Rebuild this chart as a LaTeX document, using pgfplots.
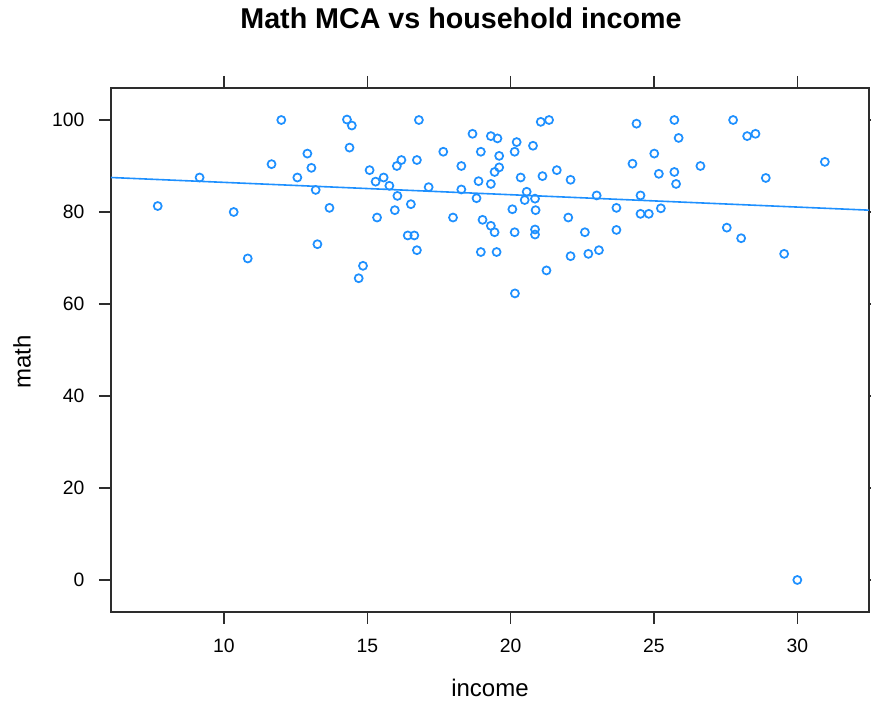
\documentclass[border=0pt]{standalone}
\usepackage{pgfplots}
\pgfplotsset{compat=1.18}
\usepackage{fontspec}
\setmainfont{Liberation Sans}
\definecolor{latblue}{RGB}{30,144,255}
\definecolor{frame}{RGB}{45,45,45}

\pgfplotstableread{
income math
7.69 81.3
9.15 87.5
10.34 80.0
10.83 69.9
11.66 90.4
12.00 100.0
12.56 87.5
12.91 92.7
13.05 89.6
13.20 84.8
13.26 73.0
13.68 80.9
14.29 100.1
14.46 98.8
14.38 94.0
14.70 65.6
14.85 68.3
15.08 89.1
15.29 86.6
15.34 78.8
15.57 87.5
15.77 85.7
15.96 80.4
16.03 90.0
16.05 83.5
16.19 91.3
16.41 74.9
16.52 81.7
16.64 74.9
16.73 91.3
16.73 71.7
16.80 100.0
17.14 85.4
17.65 93.1
17.99 78.8
18.28 90.0
18.28 84.9
18.67 97.0
18.81 83.0
18.88 86.7
18.96 93.1
18.96 71.3
19.02 78.3
19.31 96.5
19.31 86.1
19.31 77.0
19.44 88.7
19.44 75.6
19.51 71.3
19.54 96.0
19.60 92.2
19.60 89.7
20.06 80.6
20.14 93.1
20.14 75.6
20.15 62.3
20.21 95.2
20.35 87.5
20.49 82.6
20.56 84.4
20.78 94.4
20.85 82.9
20.87 80.4
20.85 76.2
20.85 75.1
21.05 99.6
21.11 87.8
21.25 67.3
21.34 100.0
21.61 89.1
22.01 78.8
22.09 87.0
22.09 70.4
22.59 75.6
22.71 70.9
23.00 83.6
23.08 71.7
23.69 80.9
23.69 76.1
24.25 90.5
24.39 99.2
24.53 83.6
24.53 79.6
24.82 79.6
25.01 92.7
25.17 88.3
25.24 80.8
25.71 100.0
25.71 88.7
25.77 86.1
25.86 96.1
26.62 90.0
27.54 76.6
27.76 100.0
28.04 74.3
28.25 96.5
28.54 97.0
28.90 87.4
29.54 70.9
30.00 0.0
30.96 90.9
}\scores

\begin{document}
\begin{tikzpicture}
\useasboundingbox (0,0) rectangle (653.25pt,526.5pt);
\begin{axis}[
  at={(83.25pt,67.5pt)}, anchor=south west,
  scale only axis, width=568.5pt, height=393pt,
  xmin=6.06, xmax=32.5, ymin=-6.96, ymax=106.96,
  xtick={10,15,20,25,30}, ytick={0,20,40,60,80,100},
  tick align=outside, tick pos=both,
  major tick length=9pt,
  axis line style={frame, line width=1pt},
  every tick/.style={frame, line width=1pt},
  tick label style={font=\fontsize{14.5}{17}\selectfont, black},
  xticklabel shift=8pt, yticklabel shift=7.5pt,
  /pgf/number format/assume math mode=true,
]
% least-squares trend line
\addplot[latblue, line width=1.2pt] coordinates {(6.06,87.5) (32.5,80.4)};
% observations
\addplot[only marks, mark=o, mark size=3pt,
  mark options={latblue, line width=1.3pt}] table[x=income, y=math] {\scores};
\end{axis}
\node[font=\fontsize{21.5}{25}\selectfont\bfseries] at (345.75pt,513pt) {Math MCA vs household income};
\node[font=\fontsize{18}{22}\selectfont] at (367.5pt,10.5pt) {income};
\node[font=\fontsize{18}{22}\selectfont, rotate=90] at (16.5pt,255pt) {math};
\end{tikzpicture}
\end{document}
